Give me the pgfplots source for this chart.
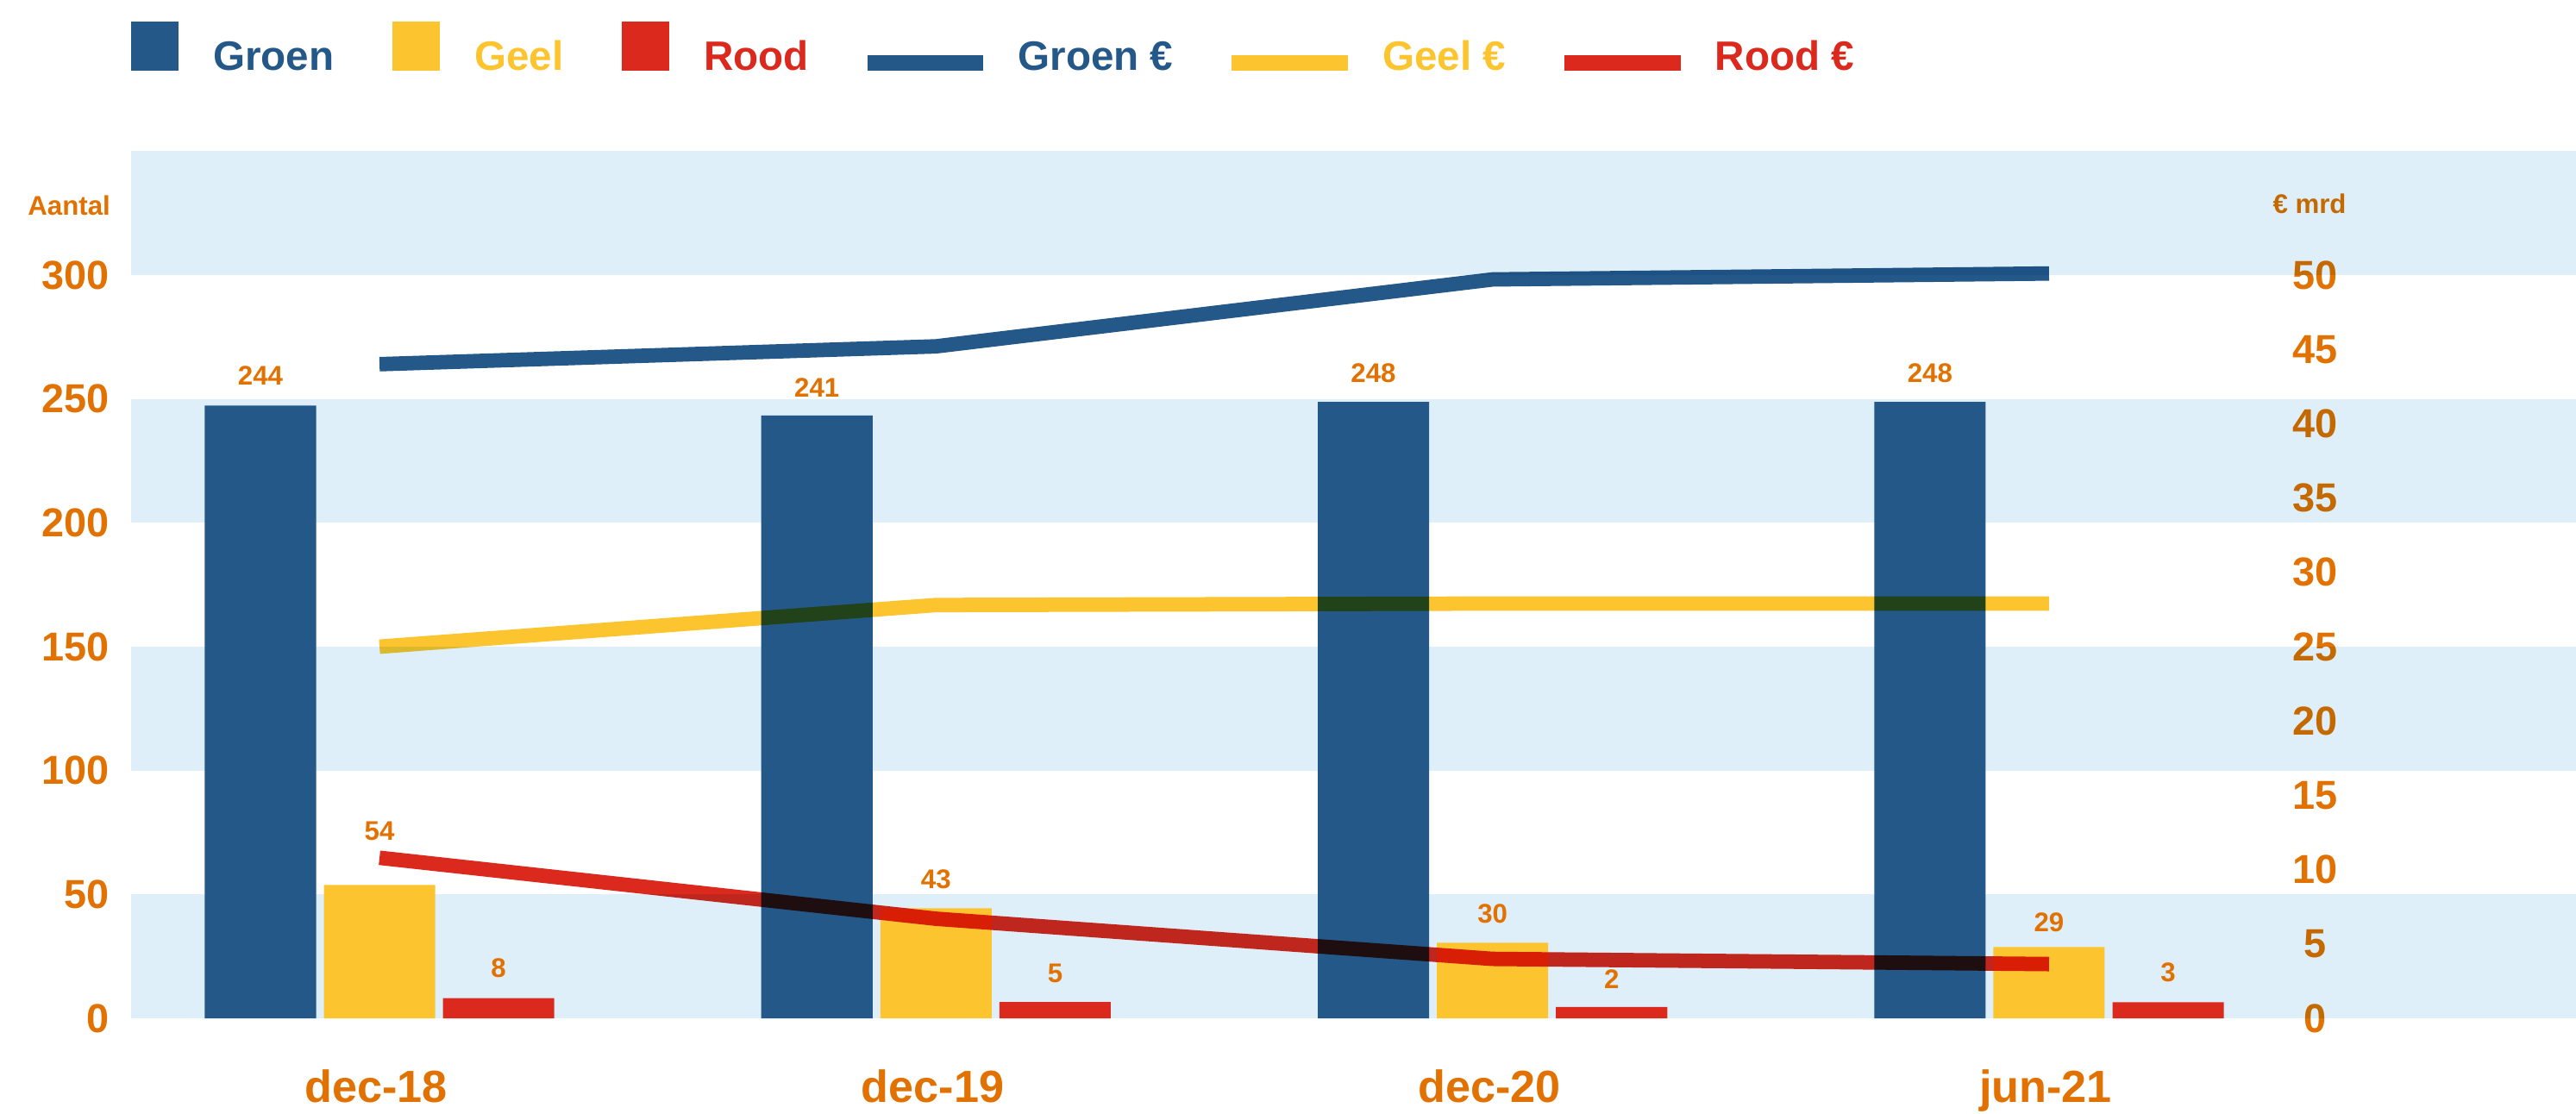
\documentclass[border=0pt]{standalone}
\usepackage{pgfplots}
\pgfplotsset{compat=1.18}
\usepackage{pgfplotstable}
\usepackage{fontspec}
\setmainfont{Liberation Sans}
\definecolor{groen}{HTML}{235889}
\definecolor{geel}{HTML}{FCC52F}
\definecolor{rood}{HTML}{DB291E}
\definecolor{band}{HTML}{DFEFF9}
\definecolor{lbl}{HTML}{E17100}

\pgfplotstableread{
x groen gl geel yl rood rl gs ys rs
0 247.3 244 53.8 54 8.2 8 6.2 13.6 6.4
1 243.3 241 44.4 43 6.6 5 5.6 6.0 6.0
2 248.8 248 30.5 30 4.6 2 6.0 6.0 5.6
3 248.8 248 28.8 29 6.5 3 6.0 4.8 6.3
}\bars
\pgfplotstableread{
x groen geel rood
0 44.0 25.0 10.8
1 45.2 27.8 6.7
2 49.7 27.9 4.0
3 50.1 27.9 3.65
}\lines

\begin{document}
\begin{tikzpicture}
\begin{axis}[
  scale only axis, width=744pt, height=264pt,
  xmin=-0.4458, xmax=3.947, ymin=0, ymax=350,
  axis line style={draw=none}, tick style={draw=none},
  xtick={0,1,2,3}, xticklabels={dec-18,dec-19,dec-20,jun-21},
  xticklabel style={anchor=base, inner sep=0pt, yshift=-25.5pt, xshift=-1pt,
    font=\bfseries\fontsize{13.7}{16}\selectfont, text=lbl},
  ytick={0,50,...,300},
  yticklabel style={anchor=east, inner sep=0pt, xshift=-6.5pt,
    font=\bfseries\fontsize{12.3}{14}\selectfont, text=lbl},
  /pgf/number format/assume math mode=true,
  clip=false,
  legend columns=6,
  legend style={at={(0,1)}, anchor=south west, yshift=21.2pt, draw=none, fill=none,
    inner sep=0pt, outer sep=0pt,
    cells={anchor=base west, inner sep=0pt},
    font=\bfseries\fontsize{12.5}{15}\selectfont,
    /tikz/every odd column/.style={column sep=8.5pt},
    /tikz/every even column/.style={column sep=15.8pt}},
]
\coordinate (O) at (rel axis cs:0,0);
\fill[band] (axis cs:-0.4458,0) rectangle (axis cs:3.947,50);
\fill[band] (axis cs:-0.4458,100) rectangle (axis cs:3.947,150);
\fill[band] (axis cs:-0.4458,200) rectangle (axis cs:3.947,250);
\fill[band] (axis cs:-0.4458,300) rectangle (axis cs:3.947,350);

\addlegendimage{legend image code/.code={\fill[groen] (0pt,0pt) rectangle (14pt,14.5pt);}}
\addlegendentry{\textcolor{groen}{Groen}}
\addlegendimage{legend image code/.code={\fill[geel] (0pt,0pt) rectangle (14pt,14.5pt);}}
\addlegendentry{\textcolor{geel}{Geel}}
\addlegendimage{legend image code/.code={\fill[rood] (0pt,0pt) rectangle (14pt,14.5pt);}}
\addlegendentry{\textcolor{rood}{Rood}}
\addlegendimage{legend image code/.code={\fill[groen] (0pt,0pt) rectangle (35pt,4.3pt);}}
\addlegendentry{\textcolor{groen}{Groen €}}
\addlegendimage{legend image code/.code={\fill[geel] (0pt,0pt) rectangle (35pt,4.3pt);}}
\addlegendentry{\textcolor{geel}{Geel €}}
\addlegendimage{legend image code/.code={\fill[rood] (0pt,0pt) rectangle (35pt,4.3pt);}}
\addlegendentry{\textcolor{rood}{Rood €}}

\addplot[forget plot, ybar, bar width=0.2, bar shift=-0.214, fill=groen, draw=none,
  nodes near coords, point meta=explicit symbolic,
  visualization depends on={\thisrow{gs} \as \ls},
  every node near coord/.append style={anchor=base, inner sep=0pt, yshift=\ls pt, xshift=-36.25pt,
    font=\bfseries\fontsize{8.2}{10}\selectfont, text=lbl}]
  table[x=x, y=groen, meta=gl] {\bars};
\addplot[forget plot, ybar, bar width=0.2, bar shift=0, fill=geel, draw=none,
  nodes near coords, point meta=explicit symbolic,
  visualization depends on={\thisrow{ys} \as \ls},
  every node near coord/.append style={anchor=base, inner sep=0pt, yshift=\ls pt,
    font=\bfseries\fontsize{8.2}{10}\selectfont, text=lbl}]
  table[x=x, y=geel, meta=yl] {\bars};
\addplot[forget plot, ybar, bar width=0.2, bar shift=0.214, fill=rood, draw=none,
  nodes near coords, point meta=explicit symbolic,
  visualization depends on={\thisrow{rs} \as \ls},
  every node near coord/.append style={anchor=base, inner sep=0pt, yshift=\ls pt, xshift=36.25pt,
    font=\bfseries\fontsize{8.2}{10}\selectfont, text=lbl}]
  table[x=x, y=rood, meta=rl] {\bars};

\node[anchor=base, inner sep=0pt, font=\bfseries\fontsize{8.2}{10}\selectfont, text=lbl]
  at (rel axis cs:-0.0255,0.926) {Aantal};
\end{axis}

\begin{axis}[
  scale only axis, width=744pt, height=264pt,
  xmin=-0.4458, xmax=3.947, ymin=0, ymax=58.3333,
  hide x axis,
  axis line style={draw=none}, tick style={draw=none},
  ytick={0,5,...,50},
  yticklabel pos=right,
  yticklabel style={anchor=center, inner sep=0pt, xshift=-79.5pt,
    font=\bfseries\fontsize{12.3}{14}\selectfont, text=lbl, /tikz/blend mode=multiply},
  /pgf/number format/assume math mode=true,
  clip=false,
]
\addplot[groen, line width=4.4pt, blend mode=multiply] table[x=x, y=groen] {\lines};
\addplot[geel, line width=4.4pt, blend mode=multiply] table[x=x, y=geel] {\lines};
\addplot[rood, line width=4.4pt, blend mode=multiply] table[x=x, y=rood] {\lines};
\node[anchor=base, inner sep=0pt, font=\bfseries\fontsize{8.2}{10}\selectfont, text=lbl, blend mode=multiply]
  at (rel axis cs:0.891,0.928) {€ mrd};
\end{axis}
\pgfresetboundingbox
\path (O) ++(-40pt,-29pt) rectangle ++(784pt,339pt);
\end{tikzpicture}
\end{document}
